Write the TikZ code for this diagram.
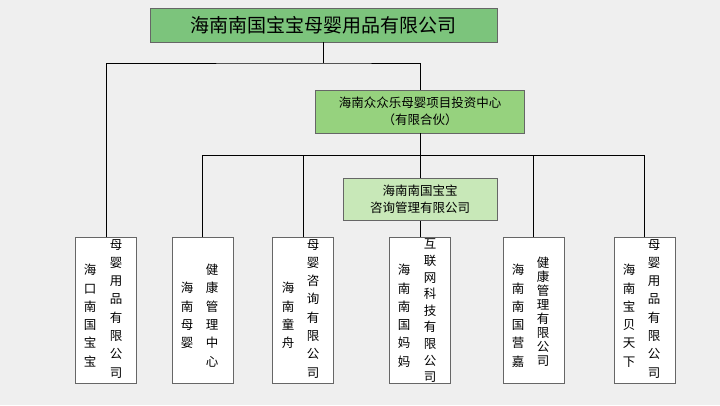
\documentclass[tikz,border=0pt]{standalone}
\usepackage{fontspec}
\setmainfont{Noto Sans CJK SC}
\definecolor{bgc}{HTML}{EFEFEF}
\definecolor{topc}{HTML}{7CC47C}
\definecolor{midc}{HTML}{96D27E}
\definecolor{subc}{HTML}{C8E8B8}
\newcommand{\vfont}[1]{\fontsize{12.5}{#1}\selectfont\lineskiplimit=-100pt\relax}
\begin{document}
\begin{tikzpicture}[x=1pt,y=-1pt]
	\tikzstyle{firma}=[draw=black!60,thin,rectangle,inner sep=0pt]
	\tikzstyle{unit}=[firma,fill=white,minimum width=61pt,minimum height=146pt]
	\tikzstyle{vtext}=[anchor=north,align=center,inner sep=0pt,font=\vfont{18.3}]
	\tikzstyle{vtight}=[vtext,font=\vfont{16.6}]
	\tikzstyle{vtighter}=[vtext,font=\vfont{14}]
	\fill[bgc] (0,0) rectangle (720,405);
	\useasboundingbox (0,0) rectangle (720,405);
	\node[firma,fill=topc,minimum width=347pt,minimum height=34pt,font=\fontsize{19}{22}\selectfont] (top) at (323.5,25){海南南国宝宝母婴用品有限公司};
	\node[firma,fill=midc,minimum width=209pt,minimum height=43pt,align=center,font=\fontsize{12.5}{17}\selectfont] (mid) at (420,111.5){海南众众乐母婴项目投资中心\\（有限合伙）};
	\node[unit] (b1) at (106,310){};
	\node[unit] (b2) at (202.5,310){};
	\node[unit] (b3) at (303,310){};
	\node[unit] (b4) at (420,310){};
	\node[unit] (b5) at (533.5,310){};
	\node[unit] (b6) at (644.5,310){};
	% texte vertical
	\node[vtext] (t1r) at (116,239){母\\婴\\用\\品\\有\\限\\公\\司};
	\node[vtext] (t1l) at (90,264){海\\口\\南\\国\\宝\\宝};
	\node[vtext] (t2r) at (212,264){健\\康\\管\\理\\中\\心};
	\node[vtext] (t2l) at (187,282){海\\南\\母\\婴};
	\node[vtext] (t3r) at (313,239){母\\婴\\咨\\询\\有\\限\\公\\司};
	\node[vtext] (t3l) at (288,282){海\\南\\童\\舟};
	\node[vtight] (t4r) at (430,239){互\\联\\网\\科\\技\\有\\限\\公\\司};
	\node[vtext] (t4l) at (404,264){海\\南\\南\\国\\妈\\妈};
	\node[vtighter] (t5r) at (543,257){健\\康\\管\\理\\有\\限\\公\\司};
	\node[vtext] (t5l) at (518,264){海\\南\\南\\国\\营\\嘉};
	\node[vtext] (t6r) at (654,239){母\\婴\\用\\品\\有\\限\\公\\司};
	\node[vtext] (t6l) at (629,264){海\\南\\宝\\贝\\天\\下};
	\coordinate (j1) at (top.south |- 0,63);
	\coordinate (j2) at (mid.south |- 0,155);
	\draw (top.south) -- (j1);
	\draw (b1.north) |- (j1) -| (mid.north);
	\draw (mid.south) -- (b4.north);
	\draw (b2.north) |- (j2) -| (b6.north);
	\draw (b3.north) |- (j2);
	\draw (b5.north) |- (j2);
	\node[firma,fill=subc,minimum width=154pt,minimum height=42pt,align=center,font=\fontsize{12.5}{17}\selectfont] (sub) at (420,199){海南南国宝宝\\咨询管理有限公司};
\end{tikzpicture}
\end{document}
